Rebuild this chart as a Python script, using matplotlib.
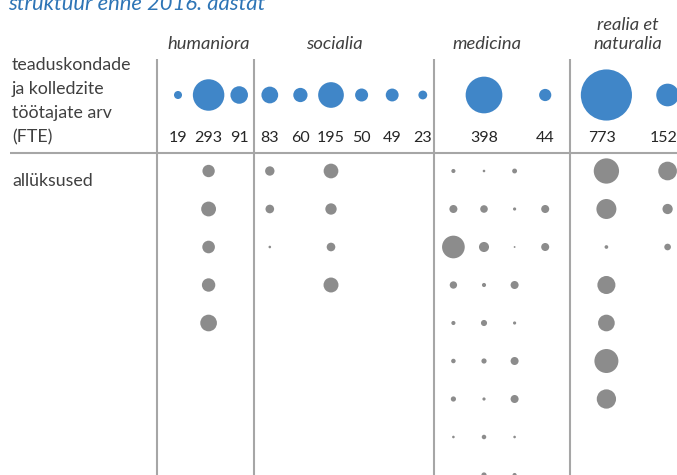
"""Bubble table: staff (FTE) of faculties and colleges, with sub-units below."""
import matplotlib
matplotlib.use('Agg')
import matplotlib.pyplot as plt

# faculty / college FTE per column slot (None = slot with sub-units only)
FTE = [19, 293, 91, 83, 60, 195, 50, 49, 23,
       None, 398, None, 44, None, 773, None, 152]

# sub-unit sizes per column slot, top row first (0 = empty row)
SUBUNITS = [
    [],
    [45, 65, 47, 53, 82],
    [],
    [26, 22, 2],
    [],
    [64, 38, 22, 66],
    [], [], [],
    [5, 19, 152, 16, 5, 6, 8, 2, 0],
    [2, 17, 30, 5, 11, 8, 3, 6, 8],
    [7, 3, 1, 19, 3, 19, 19, 2, 5],
    [0, 19, 19],
    [],
    [189, 118, 4, 96, 82, 170, 110],
    [],
    [103, 31, 13],
]

GROUPS = ['humaniora', 'socialia', 'medicina', 'realia et\nnaturalia']
GROUP_CENTRES = [1.0, 5.1, 10.1, 14.7]      # in column slots
DIVIDERS = [157, 254, 434, 570]              # px

TITLE = 'struktuur enne 2016. aastat'
ROW_LABEL_TOP = 'teaduskondade\nja kolledzite\ntöötajate arv\n(FTE)'
ROW_LABEL_SUB = 'allüksused'

BLUE = '#4086C8'
GREY = '#8C8C8C'
LINE = '#A6A6A6'
TEXT = '#404040'

X0, DX = 178, 30.6       # px of slot 0, slot spacing
Y_TOP, Y_NUM = 95, 138   # bubble row, number row
Y_SUB0, DY = 171, 38     # first sub-unit row, row spacing
S_PER_FTE = 1.755        # marker area (pt^2) per FTE

plt.rcParams['font.family'] = ['Lato', 'DejaVu Sans']

fig = plt.figure(figsize=(6.77, 4.75), dpi=100)
ax = fig.add_axes([0, 0, 1, 1])
ax.set_xlim(0, 677)
ax.set_ylim(475, 0)
ax.axis('off')


def slot_x(i):
    return X0 + DX * i


# top row: faculty bubbles and numbers
xs, ss = [], []
for i, v in enumerate(FTE):
    if v is None:
        continue
    xs.append(slot_x(i))
    ss.append(v * S_PER_FTE)
    nudge = -4 if i >= 14 else 0
    ax.text(slot_x(i) + nudge, Y_NUM, str(v), ha='center', va='center',
            fontsize=11.5, color='#262626')
ax.scatter(xs, [Y_TOP] * len(xs), s=ss, color=BLUE, lw=0, zorder=3)

# sub-unit bubbles
gx, gy, gs = [], [], []
for i, col in enumerate(SUBUNITS):
    for r, v in enumerate(col):
        if v:
            gx.append(slot_x(i))
            gy.append(Y_SUB0 + DY * r)
            gs.append(v * S_PER_FTE)
ax.scatter(gx, gy, s=gs, color=GREY, lw=0, zorder=3)

# grid lines
for x in DIVIDERS:
    ax.plot([x, x], [59, 475], color=LINE, lw=1.5, solid_capstyle='butt')
ax.plot([10, 677], [153, 153], color=LINE, lw=1.5, solid_capstyle='butt')

# headers
for name, c in zip(GROUPS, GROUP_CENTRES):
    ax.text(slot_x(c), 49, name, ha='center', va='baseline',
            fontsize=13.2, style='italic', color=TEXT, linespacing=1.2)

ax.text(12, 101, ROW_LABEL_TOP, ha='left', va='center', fontsize=12.8,
        color=TEXT, linespacing=1.62)
ax.text(12, 181, ROW_LABEL_SUB, ha='left', va='center', fontsize=12.8,
        color=TEXT)
ax.text(8, 10, TITLE, ha='left', va='baseline', fontsize=15.8,
        style='italic', color='#2E75B6')

fig.savefig('out.png', dpi=100)
